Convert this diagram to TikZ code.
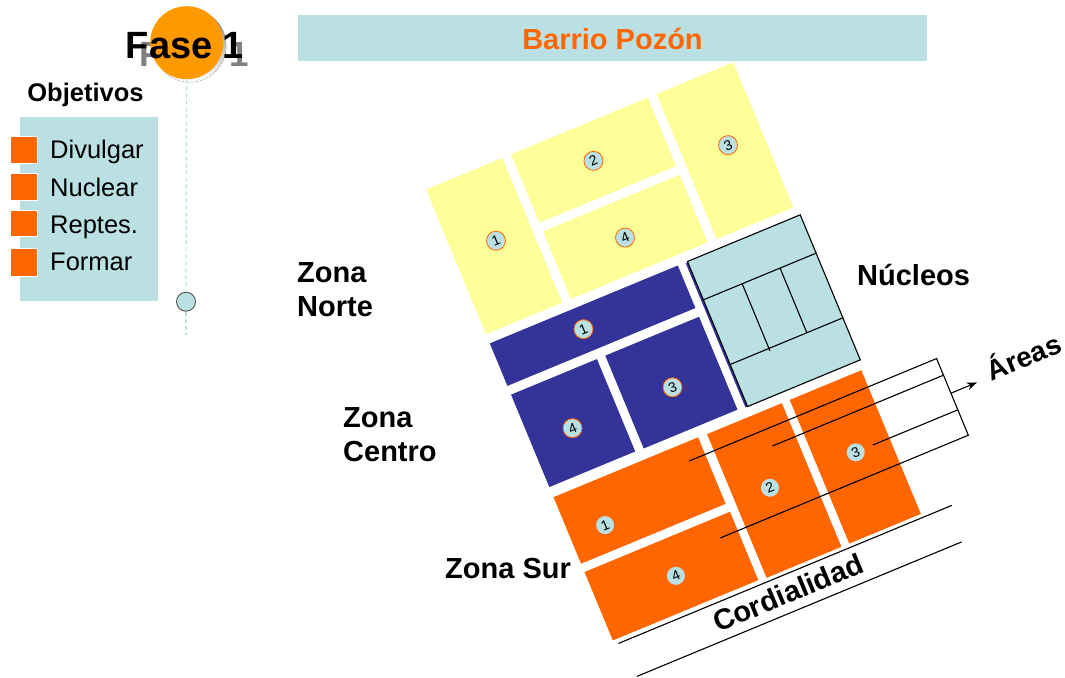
\documentclass[tikz,border=0pt]{standalone}
\usepackage{fontspec}
\setmainfont{Liberation Sans}
\usetikzlibrary{arrows.meta}
\definecolor{lblue}{HTML}{BBE0E3}
\definecolor{yel}{HTML}{FFFF99}
\definecolor{navy}{HTML}{333399}
\definecolor{orng}{HTML}{FF6600}
\definecolor{gold}{HTML}{FF9900}
\definecolor{shade}{HTML}{808080}
\begin{document}
\begin{tikzpicture}[x=1pt,y=-1pt,
  lbl/.style={font=\fontsize{29}{34}\selectfont\bfseries, inner sep=0pt, align=left},
  objtext/.style={font=\fontsize{25.5}{30}\selectfont, inner sep=0pt, anchor=base west},
  objsq/.style={fill=orng, draw=white, line width=0.8pt},
  badge/.style={circle, fill=lblue, draw=orng, line width=0.8pt, minimum size=19pt, inner sep=0pt, font=\fontsize{14}{14}\selectfont, transform shape},
  obadge/.style={badge, draw=none, minimum size=18pt},
  thinline/.style={line width=1.1pt, black},
  dashline/.style={lblue, line width=1.2pt, dash pattern=on 4pt off 3pt}]
\useasboundingbox (0,0) rectangle (1065,677);

% ---------- banner ----------
\fill[lblue] (298,15) rectangle (927,61);
\node[font=\fontsize{29}{34}\selectfont\bfseries, text=orng, anchor=base, inner sep=0pt] (barrio) at (612.5,50) {Barrio Pozón};

% ---------- Fase 1 ----------
\node[font=\fontsize{35}{40}\selectfont\bfseries, text=shade, anchor=base, inner sep=0pt] (faseshadow) at (194.3,66.7) {Fase 1};
\fill[shade] (189.7,45.7) circle (36.5);
\node[circle, fill=gold, minimum size=73pt, inner sep=0pt] (fasec) at (186.7,42.7) {};
\node[font=\fontsize{38}{44}\selectfont\bfseries, anchor=base, inner sep=0pt] (fase) at (185,58.3) {Fase 1};

\node[circle, fill=lblue, draw=black!75, line width=0.8pt, minimum size=19pt, inner sep=0pt] (dot) at (186,301.7) {};
\coordinate (dashend) at (186,335);
\draw[dashline] (fasec.south) -- (dot.north);
\draw[dashline] (dot.south) -- (dashend);

% ---------- Objetivos ----------
\node[font=\fontsize{25.5}{30}\selectfont\bfseries, anchor=base, inner sep=0pt] (objetivos) at (85.5,101.5) {Objetivos};
\fill[lblue] (20,117.3) rectangle (157.7,300.7);
\draw[objsq] (10,136) rectangle (37.3,163.3);
\draw[objsq] (10,173.3) rectangle (37.3,200);
\draw[objsq] (10,210) rectangle (37.3,236.7);
\draw[objsq] (10,248.3) rectangle (37.3,276);
\node[objtext] (divulgar) at (50,158.3) {Divulgar};
\node[objtext] (nuclear) at (50,196.9) {Nuclear};
\node[objtext] (reptes) at (50,233.6) {Reptes.};
\node[objtext] (formar) at (50,270.4) {Formar};

% ---------- zone labels ----------
\node[lbl, anchor=north west] (znorte) at (297,262.2) {Zona\\Norte};
\node[lbl, anchor=north west] (zcentro) at (343,407.2) {Zona\\Centro};
\node[lbl, anchor=base west] (zsur) at (445,578) {Zona Sur};
\node[lbl, anchor=base west] (nucleos) at (857,285) {Núcleos};

% ---------- rotated plan ----------
\begin{scope}[shift={(687.5,261.5)}, rotate=22.5]
  % Zona Norte (yellow)
  \fill[yel] (-214,-166.5) rectangle (-131.5,-10);
  \fill[yel] (-122,-166.5) rectangle (26,-92.5);
  \fill[yel] (-122,-83) rectangle (26,-10);
  \fill[yel] (35.5,-166.5) rectangle (118.5,-9.5);
  % Zona Centro (navy)
  \fill[navy] (-214,0) rectangle (-10.5,46);
  \fill[navy] (-214,55.5) rectangle (-121,155.5);
  \fill[navy] (-112,55.5) rectangle (-10.5,156);
  % Nucleos
  \fill[lblue] (0,0) rectangle (122,157);
  \draw[navy, line width=2pt] (-1.3,1) -- (-1.3,157);
  \draw[thinline] (0,0) rectangle (122,157);
  \draw[thinline] (0,41.5) -- (122,41.5);
  \draw[thinline] (0,111.5) -- (122,111.5);
  \draw[thinline] (42,41.5) -- (42,114);
  \draw[thinline] (83,41.5) -- (83,111.5);
  % Zona Sur (orange)
  \fill[orng] (-214,166.5) rectangle (-57.5,238.5);
  \fill[orng] (-214,247.5) rectangle (-56.5,321.5);
  \fill[orng] (-48,167) rectangle (33,322.5);
  \fill[orng] (41.5,167) rectangle (119,322.5);

  % badges
  \node[badge] (y1) at (-169,-92.5) {1};
  \node[badge] (y2) at (-48.4,-129) {2};
  \node[badge] (y3) at (82,-92) {3};
  \node[badge] (y4) at (-48.6,-46) {4};
  \node[badge] (b1) at (-122,22.7) {1};
  \node[badge] (b4) at (-170,110) {4};
  \node[badge] (b3) at (-62,110.5) {3};
  \node[obadge] (o1) at (-177,212) {1};
  \node[obadge] (o2) at (-10.4,240.6) {2};
  \node[obadge] (o3) at (82.4,240.7) {3};
  \node[obadge] (o4) at (-131,286) {4};

  % Areas bracket
  \coordinate (aTop) at (193,185);
  \coordinate (aBot) at (193,268);
  \coordinate (aMid) at (193,222.5);
  \coordinate (aTip) at (221,222.5);
  \coordinate (la) at (-75,185);
  \coordinate (lb) at (8,203);
  \coordinate (lbR) at (193,203);
  \coordinate (lc) at (101,240.5);
  \coordinate (lcR) at (193,240.5);
  \coordinate (ld) at (-75.5,268);
  \draw[thinline] (la) -- (aTop) -- (aBot) -- (ld);
  \draw[thinline] (lb) -- (lbR);
  \draw[thinline] (lc) -- (lcR);
  \draw[thinline, -{Stealth[length=10pt,width=8pt]}] (aMid) -- (aTip);
  \node[font=\fontsize{28}{32}\selectfont\bfseries, anchor=base west, inner sep=0pt, rotate=22.5] (areas) at (235,227.5) {Áreas};

  % Cordialidad
  \coordinate (c1a) at (-210,326.5);
  \coordinate (c1b) at (151,326.5);
  \coordinate (c2a) at (-205.5,364);
  \coordinate (c2b) at (146,364);
  \draw[thinline] (c1a) -- (c1b);
  \draw[thinline] (c2a) -- (c2b);
  \node[font=\fontsize{29}{34}\selectfont\bfseries, inner sep=0pt, rotate=22.5] (cordialidad) at (-34,344.5) {Cordialidad};
\end{scope}
\end{tikzpicture}
\end{document}
